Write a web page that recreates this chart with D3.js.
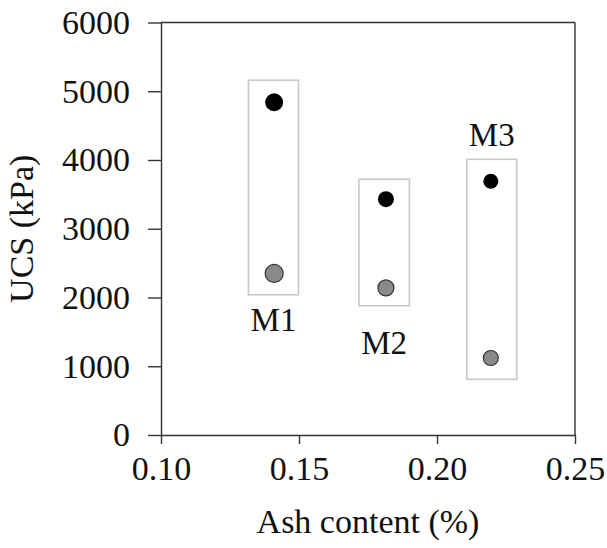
<!DOCTYPE html>
<html>
<head>
<meta charset="utf-8">
<script src="https://cdn.jsdelivr.net/npm/d3@7"></script>
<style>
  body { margin: 0; background: #fff; }
  text { font-family: "Liberation Serif", "Times New Roman", serif; fill: #111; }
</style>
</head>
<body>
<div id="chartDiv"></div>
<script>
// mixes and their ash content
const mixes = ["M1", "M2", "M3"];
const ashContent = [0.141, 0.1815, 0.2195];
// UCS of the two samples for each mix (kPa)
const ucsHigh = [4840, 3430, 3690];
const ucsLow = [2350, 2140, 1120];
// boxes drawn round each mix: [x0, x1, y0, y1]
const boxX0 = [0.1317, 0.1717, 0.2108];
const boxX1 = [0.1498, 0.1900, 0.2289];
const boxYLow = [2040, 1880, 810];
const boxYHigh = [5160, 3720, 4010];
const xTicks = [0.10, 0.15, 0.20, 0.25];
const yTicks = [0, 1000, 2000, 3000, 4000, 5000, 6000];

const W = 607, H = 548;
const margin = { left: 161, right: 32, top: 22.5, bottom: 113 };

const svg = d3.select('#chartDiv').append('svg')
    .attr('width', W)
    .attr('height', H);

const x = d3.scaleLinear().domain([0.10, 0.25]).range([margin.left, W - margin.right]);
const y = d3.scaleLinear().domain([0, 6000]).range([H - margin.bottom, margin.top]);

const axisColor = '#333';
const fontSize = 34;

// frame: top and right edges
svg.append('line')
    .attr('x1', x(0.10)).attr('x2', x(0.25))
    .attr('y1', y(6000)).attr('y2', y(6000))
    .attr('stroke', axisColor).attr('stroke-width', 1.4);
svg.append('line')
    .attr('x1', x(0.25)).attr('x2', x(0.25))
    .attr('y1', y(6000)).attr('y2', y(0))
    .attr('stroke', axisColor).attr('stroke-width', 1.4);

// x axis
const xAxis = svg.append('g')
    .attr('transform', `translate(0,${y(0)})`)
    .call(d3.axisBottom(x).tickValues(xTicks).tickFormat(d3.format('.2f')).tickSizeInner(9).tickSizeOuter(0).tickPadding(12));
xAxis.select('.domain').attr('stroke', axisColor).attr('stroke-width', 1.4);
xAxis.selectAll('.tick line').attr('stroke', axisColor).attr('stroke-width', 1.4);
xAxis.selectAll('.tick text')
    .attr('font-size', fontSize)
    .attr('fill', '#111');

// y axis
const yAxis = svg.append('g')
    .attr('transform', `translate(${x(0.10)},0)`)
    .call(d3.axisLeft(y).tickValues(yTicks).tickFormat(d3.format('d')).tickSizeInner(13).tickSizeOuter(0).tickPadding(18));
yAxis.select('.domain').attr('stroke', axisColor).attr('stroke-width', 1.4);
yAxis.selectAll('.tick line').attr('stroke', axisColor).attr('stroke-width', 1.4);
yAxis.selectAll('.tick text')
    .attr('font-size', fontSize)
    .attr('fill', '#111');

// axis titles
svg.append('text')
    .attr('x', (x(0.10) + x(0.25)) / 2)
    .attr('y', 533)
    .attr('text-anchor', 'middle')
    .attr('font-size', fontSize)
    .text('Ash content (%)');

svg.append('text')
    .attr('transform', `translate(33,${(y(0) + y(6000)) / 2}) rotate(-90)`)
    .attr('text-anchor', 'middle')
    .attr('font-size', fontSize)
    .text('UCS (kPa)');

// boxes
svg.selectAll('.mixBox')
    .data(mixes)
    .enter().append('rect')
    .attr('class', 'mixBox')
    .attr('x', (d, i) => x(boxX0[i]))
    .attr('width', (d, i) => x(boxX1[i]) - x(boxX0[i]))
    .attr('y', (d, i) => y(boxYHigh[i]))
    .attr('height', (d, i) => y(boxYLow[i]) - y(boxYHigh[i]))
    .attr('fill', 'none')
    .attr('stroke', '#c8c8c8')
    .attr('stroke-width', 1.6);

// mix labels: M1 and M2 under the box, M3 above
svg.selectAll('.mixLabel')
    .data(mixes)
    .enter().append('text')
    .attr('class', 'mixLabel')
    .attr('x', (d, i) => (x(boxX0[i]) + x(boxX1[i])) / 2)
    .attr('y', (d, i) => i < 2 ? y(boxYLow[i]) + 36 + i * 12 : y(boxYHigh[i]) - 13)
    .attr('text-anchor', 'middle')
    .attr('font-size', 33)
    .text(d => d);

const radius = [9, 8, 7.5];

// low points (gray)
svg.selectAll('.lowPt')
    .data(mixes)
    .enter().append('circle')
    .attr('class', 'lowPt')
    .attr('cx', (d, i) => x(ashContent[i]))
    .attr('cy', (d, i) => y(ucsLow[i]))
    .attr('r', (d, i) => radius[i])
    .attr('fill', '#8a8a8a')
    .attr('stroke', '#333')
    .attr('stroke-width', 1.2);

// high points (black)
svg.selectAll('.highPt')
    .data(mixes)
    .enter().append('circle')
    .attr('class', 'highPt')
    .attr('cx', (d, i) => x(ashContent[i]))
    .attr('cy', (d, i) => y(ucsHigh[i]))
    .attr('r', (d, i) => radius[i])
    .attr('fill', '#000');
</script>
</body>
</html>
